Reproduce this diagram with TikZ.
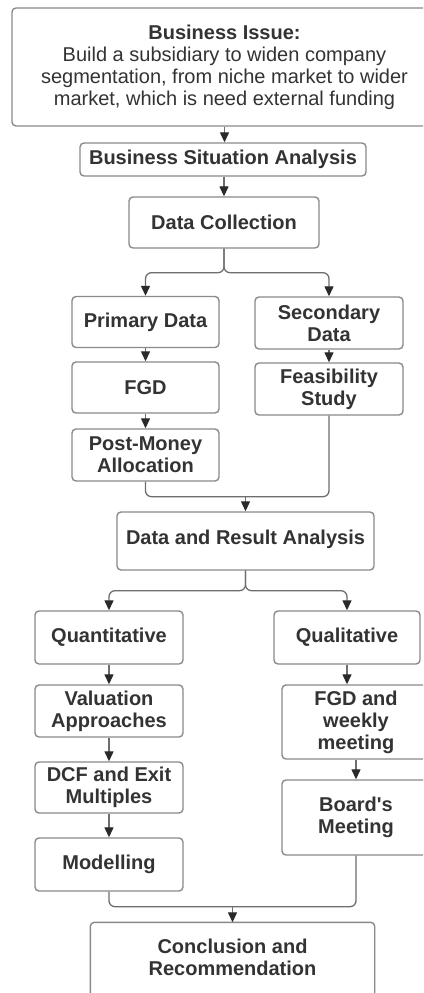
\documentclass[tikz,border=0pt]{standalone}
\usepackage{fontspec}
\setmainfont{Liberation Sans}
\usetikzlibrary{arrows.meta}
\definecolor{txt}{HTML}{333333}
\definecolor{edgec}{HTML}{8A8A8A}
\definecolor{wirec}{HTML}{6E6E6E}
\definecolor{tipc}{HTML}{2A2A2A}
\begin{document}
\begin{tikzpicture}[x=1pt,y=-1pt,
  box/.style={draw=edgec, line width=1.4pt, rounded corners=4pt, fill=white, text=txt,
    font=\bfseries\fontsize{20}{22}\selectfont, align=center, inner sep=0pt},
  wire/.style={draw=wirec, line width=1.3pt, rounded corners=6pt},
  arr/.style={wire, -{Triangle[width=9pt,length=10pt,color=tipc]}}]
\useasboundingbox (0,0) rectangle (423,993);
\clip (0,0) rectangle (423,993);
\fill[white] (0,0) rectangle (423,993);

\node[box, minimum width=425, minimum height=118, font=\fontsize{20}{22}\selectfont] (bi) at (224.5,67)
  {\textbf{Business Issue:}\\Build a subsidiary to widen company\\segmentation, from niche market to wider\\market, which is need external funding};
\node[box, minimum width=286, minimum height=33] (bsa) at (223,159.5) {Business Situation Analysis};
\node[box, minimum width=190, minimum height=51] (dc) at (224,222.5) {Data Collection};

\node[box, minimum width=147, minimum height=51] (pd) at (145.5,322) {Primary Data};
\node[box, minimum width=148, minimum height=52] (sd) at (329,323) {Secondary\\Data};
\node[box, minimum width=147, minimum height=51] (fgd) at (145.5,387.5) {FGD};
\node[box, minimum width=148, minimum height=52] (fs) at (329,389) {Feasibility\\Study};
\node[box, minimum width=147, minimum height=52] (pm) at (145.5,455) {Post-Money\\Allocation};

\node[box, minimum width=257, minimum height=58] (dra) at (245.5,541) {\raisebox{8pt}{Data and Result Analysis}};

\node[box, minimum width=148, minimum height=53] (quant) at (109,637.5) {Quantitative};
\node[box, minimum width=146, minimum height=53] (qual) at (347,637.5) {Qualitative};
\node[box, minimum width=148, minimum height=52] (va) at (109,711) {Valuation\\Approaches};
\node[box, minimum width=148, minimum height=74] (fw) at (356,722) {FGD and\\weekly\\meeting};
\node[box, minimum width=148, minimum height=51] (dcf) at (109,787.5) {DCF and Exit\\Multiples};
\node[box, minimum width=148, minimum height=75] (bm) at (356,817.5) {Board\textquotesingle s\\Meeting};
\node[box, minimum width=148, minimum height=53] (mod) at (109,864.5) {Modelling};

\node[box, draw=none, fill=none, minimum width=283, minimum height=68] (cr) at (232.5,957) {};
\draw[draw=edgec, line width=1.4pt, rounded corners=4pt, fill=white] (cr.north west) rectangle ([yshift=-30pt]cr.south east);
\node[box, draw=none, fill=none] (crt) at (cr.center) {Conclusion and\\Recommendation};

% connectors
\draw[arr] (bi.south) -- (bi.south |- bsa.north);
\draw[arr] (bsa.south -| dc.north) -- (dc.north);
\draw[arr] (dc.south) -- ++(0,24) -| (pd.north);
\draw[arr] (dc.south) -- ++(0,24) -| (sd.north);
\draw[arr] (pd.south) -- (fgd.north);
\draw[arr] (sd.south) -- (fs.north);
\draw[arr] (fgd.south) -- (pm.north);
\draw[wire] (pm.south) -- ++(0,15) -| (fs.south);
\coordinate (m1) at (245.5,496);
\draw[arr] (m1) -- (dra.north);
\draw[arr] (dra.south) -- ++(0,20) -| (quant.north);
\draw[arr] (dra.south) -- ++(0,20) -| (qual.north);
\draw[arr] (quant.south) -- (va.north);
\draw[arr] (qual.south) -- (qual.south |- fw.north);
\draw[arr] (va.south) -- (dcf.north);
\draw[arr] (fw.south) -- (bm.north);
\draw[arr] (dcf.south) -- (mod.north);
\draw[wire] (mod.south) -- ++(0,15) -| (bm.south);
\coordinate (m2) at (232.5,906);
\draw[arr] (m2) -- (cr.north);
\end{tikzpicture}
\end{document}
